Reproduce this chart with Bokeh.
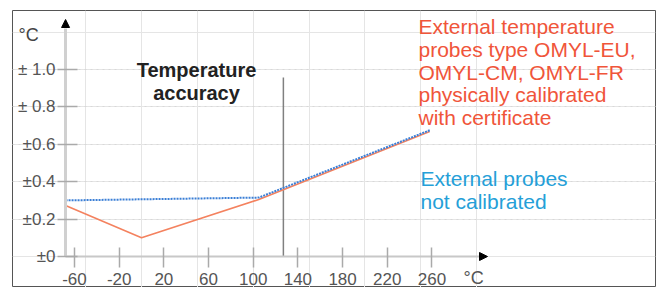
from bokeh.plotting import figure
from bokeh.models import (LinearAxis, FixedTicker, Range1d, Label, Arrow,
                          NormalHead, Grid)
from bokeh.embed import file_html
from bokeh.resources import INLINE

# ---------------- data ----------------
x_ticks = [-60, -20, 20, 60, 100, 140, 180, 220, 260]
x_tick_labels = ["-60", "-20", "20", "60", "100", "140", "180", "220", "260"]
y_ticks = [0, 0.2, 0.4, 0.6, 0.8, 1.0]
y_tick_labels = ["±0", "±0.2", "±0.4", "±0.6", "± 0.8", "± 1.0"]

calibrated_x = [-68, 0, 105, 258]
calibrated_y = [0.273, 0.10, 0.305, 0.668]
uncalibrated_x = [-68, 105, 258]
uncalibrated_y = [0.30, 0.315, 0.675]
divider_x = [127, 127]
divider_y = [0, 0.957]

calibrated_text = ["External temperature", "probes type OMYL-EU,",
                   "OMYL-CM, OMYL-FR", "physically calibrated",
                   "with certificate"]
uncalibrated_text = ["External probes", "not calibrated"]
title_text = ["Temperature", "accuracy"]

# ---------------- pixel <-> data helpers (canvas coords) ----------------
PX_PER_X = 1.117
PX_PER_Y = 187.0
X0_PX, Y0_PX = 74.0, 256.0   # canvas position of x=-60 / y=0


def dx(px):
    return -60 + (px - X0_PX) / PX_PER_X


def dy(py):
    return (Y0_PX - py) / PX_PER_Y


def base(py, fs):
    # baseline placement correction for Label text
    return dy(py - round(0.43 * fs))


W, H = 659, 287
p = figure(width=W, height=H, output_backend="svg", toolbar_location=None,
           x_axis_location=None, y_axis_location=None,
           min_border_left=12, min_border_right=4, min_border_top=10,
           min_border_bottom=0,
           x_range=Range1d(dx(12), dx(655)), y_range=Range1d(dy(287), dy(10)))
p.outline_line_color = "#555555"
p.outline_line_width = 1
p.background_fill_color = "white"
p.border_fill_color = "white"

FONT = "Liberation Sans"

# grids (faint dotted)
g1 = Grid(dimension=1, ticker=FixedTicker(ticks=[0.8, 1.0]), bounds=(-57, 448),
          grid_line_color="#d8d8d8", grid_line_dash="dotted", grid_line_width=1)
g2 = Grid(dimension=1, ticker=FixedTicker(ticks=[0.2, 0.4, 0.6]), bounds=(-57, 269),
          grid_line_color="#d8d8d8", grid_line_dash="dotted", grid_line_width=1)
p.add_layout(g1)
p.add_layout(g2)

xaxis = LinearAxis(fixed_location=0, ticker=FixedTicker(ticks=x_ticks),
                   bounds=(-68, 304))
xaxis.major_label_overrides = {t: l for t, l in zip(x_ticks, x_tick_labels)}
xaxis.axis_line_color = "#c8c8c8"
xaxis.axis_line_width = 2
xaxis.major_tick_in = 9
xaxis.major_tick_out = 11
xaxis.major_tick_line_color = "#aaaaaa"
xaxis.major_tick_line_width = 1.5
xaxis.minor_tick_line_color = None
xaxis.major_label_text_font = FONT
xaxis.major_label_text_font_size = "17px"
xaxis.major_label_text_color = "#555555"
xaxis.major_label_standoff = 5
p.add_layout(xaxis, "below")

yaxis = LinearAxis(fixed_location=-68, ticker=FixedTicker(ticks=y_ticks),
                   bounds=(0, 1.22))
yaxis.major_label_overrides = {t: l for t, l in zip(y_ticks, y_tick_labels)}
yaxis.axis_line_color = "#d0d0d0"
yaxis.axis_line_width = 3
yaxis.major_tick_in = 12
yaxis.major_tick_out = 8
yaxis.major_tick_line_color = "#aaaaaa"
yaxis.major_tick_line_width = 1.5
yaxis.minor_tick_line_color = None
yaxis.major_label_text_font = FONT
yaxis.major_label_text_font_size = "17px"
yaxis.major_label_text_color = "#555555"
yaxis.major_label_standoff = 2
p.add_layout(yaxis, "left")

# arrow heads on axes
p.add_layout(Arrow(end=NormalHead(size=8, fill_color="black", line_color="black"),
                   x_start=dx(470), y_start=0, x_end=dx(487), y_end=0,
                   line_alpha=0))
p.add_layout(Arrow(end=NormalHead(size=8, fill_color="black", line_color="black"),
                   x_start=-68, y_start=dy(40), x_end=-68, y_end=dy(19),
                   line_alpha=0))

# vertical divider
p.line(divider_x, divider_y, line_color="#808080", line_width=1.5)

# series
p.line(calibrated_x, calibrated_y, line_color="#f4825f", line_width=1.6)
p.line(uncalibrated_x, uncalibrated_y, line_color="#3b7fd6", line_width=2,
       line_dash="2 1")

# texts
p.add_layout(Label(x=dx(18), y=base(42, 18), text="°C", text_font=FONT,
                   text_font_size="18px", text_color="#444444",
                   text_baseline="alphabetic"))
p.add_layout(Label(x=dx(463), y=base(285, 18), text="°C", text_font=FONT,
                   text_font_size="18px", text_color="#555555",
                   text_baseline="alphabetic"))

for i, t in enumerate(title_text):
    p.add_layout(Label(x=dx(196), y=base(78 + 23 * i, 20), text=t, text_font=FONT,
                       text_font_size="20px", text_font_style="bold",
                       text_color="#222222", text_align="center",
                       text_baseline="alphabetic"))

for i, t in enumerate(calibrated_text):
    p.add_layout(Label(x=dx(418), y=base(35 + 22.75 * i, 21), text=t,
                       text_font=FONT, text_font_size="21px",
                       text_color="#f0553a", text_baseline="alphabetic"))

for i, t in enumerate(uncalibrated_text):
    p.add_layout(Label(x=dx(420), y=base(187 + 23 * i, 21), text=t,
                       text_font=FONT, text_font_size="21px",
                       text_color="#259fd8", text_baseline="alphabetic"))

open("out.html", "w").write(file_html(p, INLINE))
